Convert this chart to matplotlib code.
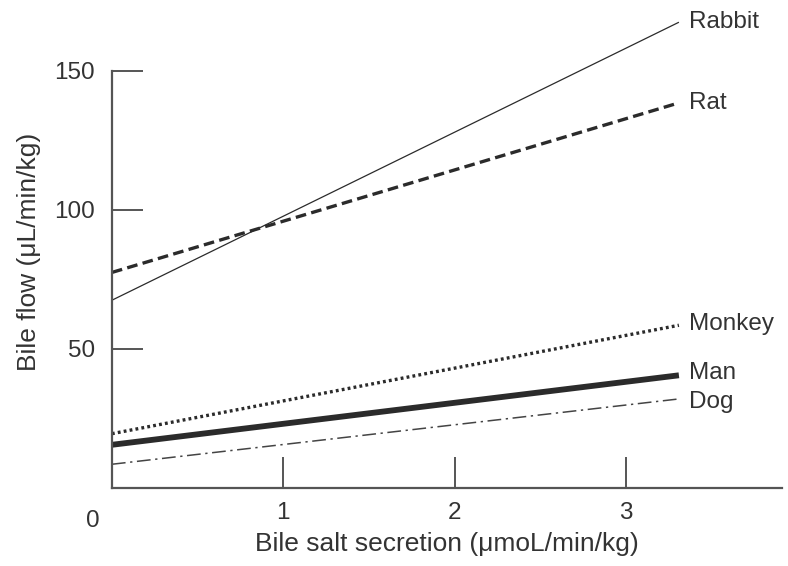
import matplotlib.pyplot as plt

plt.rcParams['font.family'] = ['Liberation Sans', 'DejaVu Sans']

# Bile flow vs bile salt secretion, straight lines
species = ['Rabbit', 'Rat', 'Monkey', 'Man', 'Dog']
x_ends = [0.0, 3.31]
rabbit = [67.5, 167.5]
rat = [77.5, 138.5]
monkey = [19.5, 58.5]
man = [15.5, 40.5]
dog = [8.5, 32.0]
label_y = [167.5, 138.5, 59.0, 41.2, 31.0]

x_ticks = [1, 2, 3]
y_ticks = [50, 100, 150]

ink = '#2b2b2b'
axis_col = '#555555'
txt = '#333333'
fs = 17.5
fs_lab = 19

fig = plt.figure(figsize=(7.88, 5.66), dpi=100)
ax = fig.add_axes([0.142, 0.138, 0.850, 0.835])

ax.plot(x_ends, rabbit, color=ink, lw=0.9, solid_capstyle='butt')
ax.plot(x_ends, rat, color=ink, lw=2.4, linestyle=(0, (3.2, 1.6)))
ax.plot(x_ends, monkey, color=ink, lw=2.4, linestyle=(0, (0.85, 0.95)))
ax.plot(x_ends, man, color=ink, lw=4.2, solid_capstyle='butt')
ax.plot(x_ends, dog, color='#444444', lw=1.1, linestyle=(0, (9, 3, 1.5, 3)))

for name, yv in zip(species, label_y):
    ax.text(3.37, yv, name, fontsize=fs, color=txt, va='center', ha='left')

ax.set_xlim(0, 3.91)
ax.set_ylim(0, 170)

for s in ['top', 'right']:
    ax.spines[s].set_visible(False)
ax.spines['left'].set_bounds(0, 150)
for s in ['left', 'bottom']:
    ax.spines[s].set_color(axis_col)
    ax.spines[s].set_linewidth(1.6)

ax.set_xticks(x_ticks)
ax.set_yticks(y_ticks)
ax.tick_params(axis='both', direction='in', length=22, width=1.4, color=axis_col,
               labelsize=fs, labelcolor=txt)
ax.tick_params(axis='x', pad=10)
ax.tick_params(axis='y', pad=12)

ax.text(-0.11, -12, '0', fontsize=fs, color=txt, ha='center', va='center')

ax.set_xlabel('Bile salt secretion (\u03bcmoL/min/kg)', fontsize=fs_lab, color=txt, labelpad=6)
ax.set_ylabel('Bile flow (\u03bcL/min/kg)', fontsize=fs_lab, color=txt, labelpad=10)

fig.savefig('out.png', dpi=100)
